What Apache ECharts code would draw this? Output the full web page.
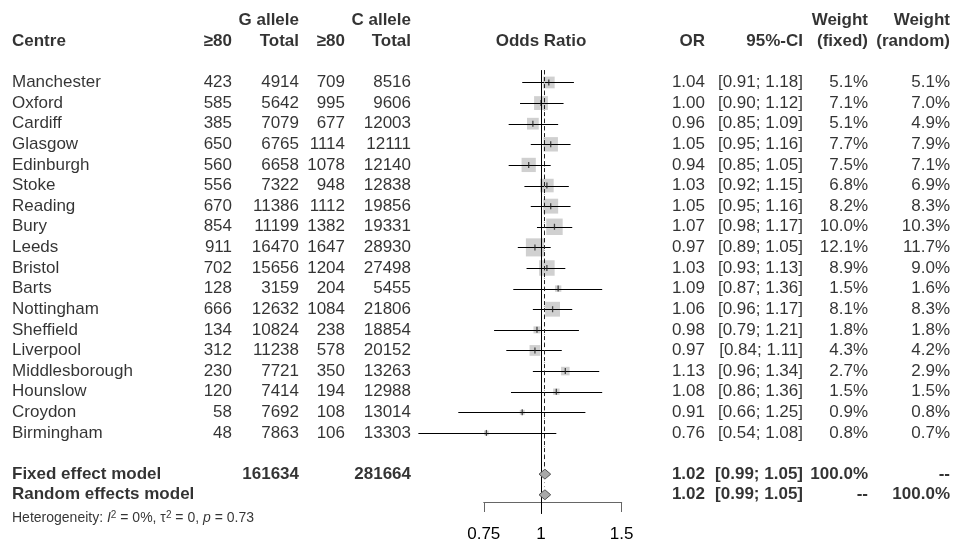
<!DOCTYPE html>
<html>
<head>
<meta charset="utf-8">
<script src="https://cdn.jsdelivr.net/npm/echarts@6/dist/echarts.min.js"></script>
<style>
  html, body { margin: 0; padding: 0; background: #fff; }
  #main { width: 954px; height: 543px; }
</style>
</head>
<body>
<div id="main"></div>
<script>
var centres = ['Manchester', 'Oxford', 'Cardiff', 'Glasgow', 'Edinburgh', 'Stoke', 'Reading', 'Bury', 'Leeds',
    'Bristol', 'Barts', 'Nottingham', 'Sheffield', 'Liverpool', 'Middlesborough', 'Hounslow', 'Croydon', 'Birmingham'];
var gEvents = [423, 585, 385, 650, 560, 556, 670, 854, 911, 702, 128, 666, 134, 312, 230, 120, 58, 48];
var gTotal = [4914, 5642, 7079, 6765, 6658, 7322, 11386, 11199, 16470, 15656, 3159, 12632, 10824, 11238, 7721, 7414, 7692, 7863];
var cEvents = [709, 995, 677, 1114, 1078, 948, 1112, 1382, 1647, 1204, 204, 1084, 238, 578, 350, 194, 108, 106];
var cTotal = [8516, 9606, 12003, 12111, 12140, 12838, 19856, 19331, 28930, 27498, 5455, 21806, 18854, 20152, 13263, 12988, 13014, 13303];
var oddsRatio = [1.04, 1.00, 0.96, 1.05, 0.94, 1.03, 1.05, 1.07, 0.97, 1.03, 1.09, 1.06, 0.98, 0.97, 1.13, 1.08, 0.91, 0.76];
var ciLower = [0.91, 0.90, 0.85, 0.95, 0.85, 0.92, 0.95, 0.98, 0.89, 0.93, 0.87, 0.96, 0.79, 0.84, 0.96, 0.86, 0.66, 0.54];
var ciUpper = [1.18, 1.12, 1.09, 1.16, 1.05, 1.15, 1.16, 1.17, 1.05, 1.13, 1.36, 1.17, 1.21, 1.11, 1.34, 1.36, 1.25, 1.08];
var weightFixed = [5.1, 7.1, 5.1, 7.7, 7.5, 6.8, 8.2, 10.0, 12.1, 8.9, 1.5, 8.1, 1.8, 4.3, 2.7, 1.5, 0.9, 0.8];
var weightRandom = [5.1, 7.0, 4.9, 7.9, 7.1, 6.9, 8.3, 10.3, 11.7, 9.0, 1.6, 8.3, 1.8, 4.2, 2.9, 1.5, 0.8, 0.7];

var summaryNames = ['Fixed effect model', 'Random effects model'];
var summaryOr = [1.02, 1.02];
var summaryLower = [0.99, 0.99];
var summaryUpper = [1.05, 1.05];
var summaryWeightFixed = ['100.0%', '--'];
var summaryWeightRandom = ['--', '100.0%'];
var totalG = 161634;
var totalC = 281664;
var xTicks = [0.75, 1, 1.5];

// layout
var FONT = '"Liberation Sans", Arial, sans-serif';
var FS = 17;
var studyRows = centres.map(function (c, i) { return i; });
var summaryRows = [19, 20];
var PX_ONE = 541, PX_PER_LN = 199;
var X_MIN = 0.5, X_MAX = 2;
var plotLeft = PX_ONE + PX_PER_LN * Math.log(X_MIN);
var plotWidth = PX_PER_LN * (Math.log(X_MAX) - Math.log(X_MIN));
var axisLeft = PX_ONE + PX_PER_LN * Math.log(xTicks[0]);
var axisWidth = PX_PER_LN * (Math.log(xTicks[2]) - Math.log(xTicks[0]));

var fmt2 = function (v) { return v.toFixed(2); };
var ciText = function (lo, hi) { return '[' + fmt2(lo) + '; ' + fmt2(hi) + ']'; };
var pct = function (v) { return v.toFixed(1) + '%'; };

// one scatter series of invisible points carrying text labels
var textCol = function (x, rows, texts, align, bold, size) {
    var pos = align == 'right' ? 'left' : (align == 'left' ? 'right' : 'inside');
    return {
        type: 'scatter', xAxisIndex: 0, yAxisIndex: 0, symbolSize: 0, silent: true,
        itemStyle: { color: 'transparent' },
        label: {
            show: true, position: pos, distance: 0, formatter: '{b}',
            fontFamily: FONT, fontSize: size || FS, fontWeight: bold ? 'bold' : 'normal', color: '#000'
        },
        data: rows.map(function (r, i) { return { name: String(texts[i]), value: [x, r] }; })
    };
};

// vertical reference segment [x, rowFrom, rowTo], snapped to the pixel grid
var vline = function (x, r0, r1, style, z) {
    return {
        type: 'custom', xAxisIndex: 1, yAxisIndex: 1, silent: true, z: z,
        encode: { x: 0, y: [1, 2] },
        renderItem: function (params, api) {
            var a = api.coord([api.value(0), api.value(1)]);
            var b = api.coord([api.value(0), api.value(2)]);
            var x = Math.floor(a[0]) + 0.5;
            return { type: 'line', shape: { x1: x, y1: a[1], x2: x, y2: b[1] }, style: style };
        },
        data: [[x, r0, r1]]
    };
};

var series = [
    textCol(12, [-2], ['Centre'], 'left', true),
    textCol(299, [-3, -2], ['G allele', 'Total'], 'right', true),
    textCol(232, [-2], ['\u226580'], 'right', true),
    textCol(411, [-3, -2], ['C allele', 'Total'], 'right', true),
    textCol(345, [-2], ['\u226580'], 'right', true),
    textCol(541, [-2], ['Odds Ratio'], 'center', true),
    textCol(705, [-2], ['OR'], 'right', true),
    textCol(803, [-2], ['95%-CI'], 'right', true),
    textCol(868, [-3, -2], ['Weight', '(fixed)'], 'right', true),
    textCol(950, [-3, -2], ['Weight', '(random)'], 'right', true),

    textCol(12, studyRows, centres, 'left'),
    textCol(232, studyRows, gEvents, 'right'),
    textCol(299, studyRows, gTotal, 'right'),
    textCol(345, studyRows, cEvents, 'right'),
    textCol(411, studyRows, cTotal, 'right'),
    textCol(705, studyRows, oddsRatio.map(fmt2), 'right'),
    textCol(803, studyRows, ciLower.map(function (lo, i) { return ciText(lo, ciUpper[i]); }), 'right'),
    textCol(868, studyRows, weightFixed.map(pct), 'right'),
    textCol(950, studyRows, weightRandom.map(pct), 'right'),

    textCol(12, summaryRows, summaryNames, 'left', true),
    textCol(299, [19], [totalG], 'right', true),
    textCol(411, [19], [totalC], 'right', true),
    textCol(705, summaryRows, summaryOr.map(fmt2), 'right', true),
    textCol(803, summaryRows, summaryLower.map(function (lo, i) { return ciText(lo, summaryUpper[i]); }), 'right', true),
    textCol(868, summaryRows, summaryWeightFixed, 'right', true),
    textCol(950, summaryRows, summaryWeightRandom, 'right', true),
    {
        type: 'scatter', xAxisIndex: 0, yAxisIndex: 0, symbolSize: 0, silent: true,
        itemStyle: { color: 'transparent' },
        label: {
            show: true, position: 'right', distance: 0, color: '#000',
            fontFamily: FONT, fontSize: 14,
            formatter: 'Heterogeneity: {i|I}{sup|2} = 0%, \u03c4{sup|2} = 0, {i|p} = 0.73',
            rich: {
                i: { fontFamily: FONT, fontSize: 14, fontStyle: 'italic', color: '#000' },
                sup: { fontFamily: FONT, fontSize: 10, verticalAlign: 'top', color: '#000', padding: [0, 0, 6, 0] }
            }
        },
        data: [{ name: 'het', value: [12, 21.15] }]
    },

    // forest plot
    {
        type: 'scatter', xAxisIndex: 1, yAxisIndex: 1, silent: true, z: 2,
        symbol: 'rect',
        symbolSize: function (v, p) { return 5.2 * Math.sqrt(weightFixed[p.dataIndex]); },
        itemStyle: { color: '#c4c4c4' },
        data: oddsRatio.map(function (v, i) { return [v, studyRows[i]]; })
    },
    {
        type: 'custom', xAxisIndex: 1, yAxisIndex: 1, silent: true, z: 3,
        encode: { x: [0, 1], y: 2 },
        renderItem: function (params, api) {
            var a = api.coord([api.value(0), api.value(2)]);
            var b = api.coord([api.value(1), api.value(2)]);
            var y = Math.round(a[1]) + 0.5;
            return { type: 'line', shape: { x1: a[0], y1: y, x2: b[0], y2: y }, style: { stroke: '#000', lineWidth: 1 } };
        },
        data: ciLower.map(function (lo, i) { return [lo, ciUpper[i], studyRows[i]]; })
    },
    {
        type: 'scatter', xAxisIndex: 1, yAxisIndex: 1, silent: true, z: 4,
        symbol: 'rect', symbolSize: [1.3, 6],
        itemStyle: { color: '#222' },
        data: oddsRatio.map(function (v, i) { return [v, studyRows[i]]; })
    },
    vline(1, -0.6, 20.93, { stroke: '#000', lineWidth: 1 }, 5),
    vline(summaryOr[0], -0.6, summaryRows[0] - 0.25, { stroke: '#222', lineWidth: 1, lineDash: [4, 3] }, 5),
    vline(summaryOr[1], -0.6, summaryRows[1] - 0.25, { stroke: '#999', lineWidth: 1, lineDash: [1, 3] }, 4),
    {
        type: 'custom', xAxisIndex: 1, yAxisIndex: 1, silent: true, z: 6,
        encode: { x: [0, 1, 2], y: 3 },
        renderItem: function (params, api) {
            var r = api.value(3);
            var pts = [
                api.coord([api.value(0), r]),
                api.coord([api.value(1), r - 0.24]),
                api.coord([api.value(2), r]),
                api.coord([api.value(1), r + 0.24])
            ];
            return { type: 'polygon', shape: { points: pts }, style: { fill: '#a9a9a9', stroke: '#555', lineWidth: 1 } };
        },
        data: summaryOr.map(function (v, i) { return [summaryLower[i], v, summaryUpper[i], summaryRows[i]]; })
    }
];

var hiddenY = { type: 'value', min: -4, max: 22, inverse: true, show: false };

var chart = echarts.init(document.getElementById('main'));
chart.setOption({
    animation: false,
    backgroundColor: '#fff',
    grid: [
        { left: 0, width: 954, top: 0, height: 536 },
        { left: plotLeft, width: plotWidth, top: 0, height: 536 },
        { left: axisLeft, width: axisWidth, top: 490, height: 14 }
    ],
    xAxis: [
        { type: 'value', gridIndex: 0, min: 0, max: 954, show: false },
        { type: 'log', gridIndex: 1, min: X_MIN, max: X_MAX, show: false },
        {
            type: 'log', gridIndex: 2, min: xTicks[0], max: xTicks[2],
            axisLine: { show: true, lineStyle: { color: '#666', width: 1 } },
            axisTick: { show: true, customValues: xTicks, length: 10, lineStyle: { color: '#666' } },
            axisLabel: {
                show: true, customValues: xTicks, margin: 24, color: '#000',
                fontFamily: FONT, fontSize: FS,
                formatter: function (v) { return String(Number(v.toFixed(2))); }
            },
            splitLine: { show: false }
        }
    ],
    yAxis: [
        Object.assign({ gridIndex: 0 }, hiddenY),
        Object.assign({ gridIndex: 1 }, hiddenY),
        { type: 'value', gridIndex: 2, show: false }
    ],
    series: series
});
</script>
</body>
</html>
